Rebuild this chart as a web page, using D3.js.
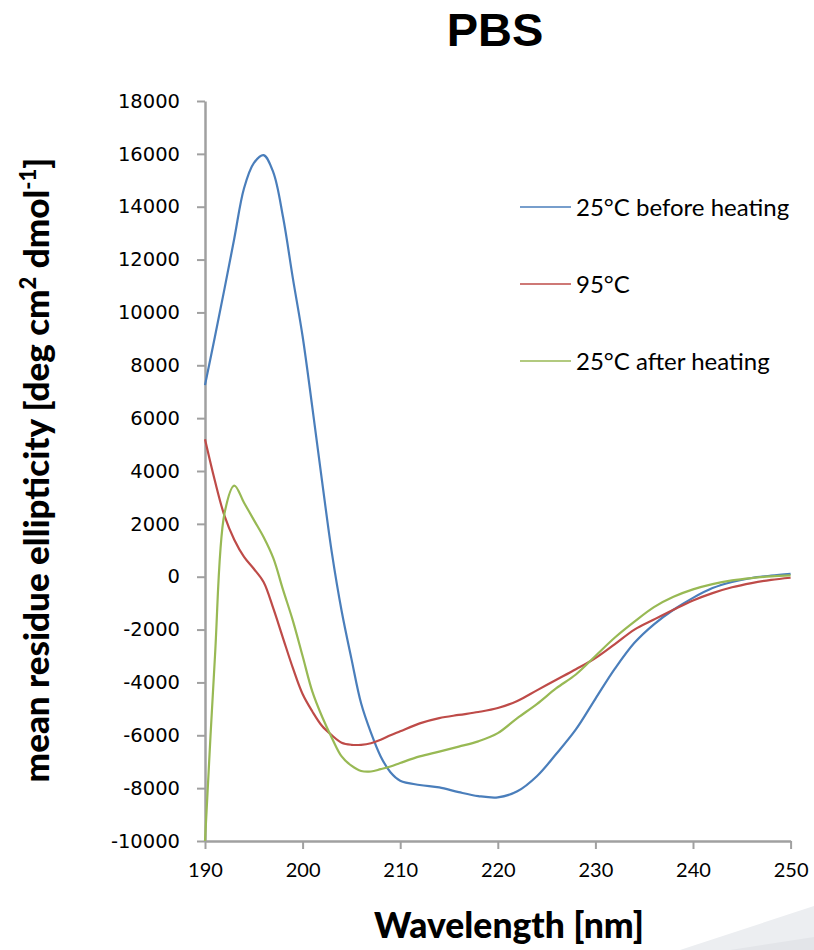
<!DOCTYPE html>
<html>
<head>
<meta charset="utf-8">
<script src="https://cdn.jsdelivr.net/npm/d3@7"></script>
<style>
body { margin: 0; background: #ffffff; }
svg { display: block; }
</style>
</head>
<body>
<div id="chart"></div>
<script>
// ----------------------------------------------------------
// DATA -----------------------------------------------------
// ----------------------------------------------------------
var wavelengths = [190, 191, 192, 193, 194, 195, 196, 197, 198, 199, 200, 201, 202, 203, 204, 205, 206, 207, 208, 209, 210,
  212, 214, 216, 218, 220, 222, 224, 226, 228, 230, 232, 234, 236, 238, 240, 242, 244, 246, 248, 250];

var before_heating = [7250, 9050, 10900, 12800, 14700, 15650, 15950, 15300, 13600, 11300, 9100, 6400, 3600, 900, -1300, -3100, -4800, -5900, -6800, -7400, -7720,
  -7880, -7970, -8150, -8300, -8350, -8120, -7550, -6700, -5780, -4620, -3480, -2500, -1800, -1250, -800, -430, -200, -50, 40, 110];

var hot_95 = [5200, 3650, 2300, 1400, 750, 300, -200, -1200, -2330, -3450, -4440, -5100, -5650, -6000, -6280, -6360, -6360, -6300, -6170, -6000, -5850,
  -5550, -5350, -5230, -5120, -4970, -4700, -4300, -3900, -3500, -3080, -2550, -2000, -1620, -1250, -900, -620, -400, -240, -120, -40];

var after_heating = [-10000, -3150, 2400, 3450, 2800, 2150, 1500, 700, -500, -1660, -3000, -4350, -5300, -6100, -6800, -7150, -7350, -7370, -7280, -7180, -7050,
  -6800, -6620, -6430, -6230, -5920, -5350, -4820, -4220, -3700, -3000, -2300, -1700, -1150, -760, -480, -280, -140, -50, 10, 50];

var series_names = ["25°C before heating", "95°C", "25°C after heating"];
var series_values = [before_heating, hot_95, after_heating];
var series_colors = ["#4a7ebb", "#be4b48", "#98b954"];

var x_ticks = [190, 200, 210, 220, 230, 240, 250];
var y_ticks = [-10000, -8000, -6000, -4000, -2000, 0, 2000, 4000, 6000, 8000, 10000, 12000, 14000, 16000, 18000];

// ----------------------------------------------------------
// STRUCTURE ------------------------------------------------
// ----------------------------------------------------------
var width = 814, height = 950;
var plot_left = 205, plot_right = 790.6, plot_top = 101, plot_bottom = 841;
var axis_color = "#a0a0a0";

var svg = d3.select("#chart").append("svg")
  .attr("width", width)
  .attr("height", height)
  .style("background-color", "#ffffff");

// decorative wedge, bottom right
svg.append("polygon")
  .attr("points", "680,950 814,906 814,950")
  .style("fill", "#eceef1");
svg.append("polygon")
  .attr("points", "730,950 814,937 814,950")
  .style("fill", "#e3e5e9");

var xScale = d3.scaleLinear().domain([190, 250]).range([plot_left, plot_right]);
var yScale = d3.scaleLinear().domain([-10000, 18000]).range([plot_bottom, plot_top]);

// ----------------------------------------------------------
// AXES -----------------------------------------------------
// ----------------------------------------------------------
svg.append("g")
  .attr("transform", "translate(0," + plot_bottom + ")")
  .call(d3.axisBottom(xScale).tickValues(x_ticks).tickSize(8).tickPadding(14).tickSizeOuter(0))
  .call(function(g) {
    g.select(".domain").attr("stroke", axis_color).attr("stroke-width", 2.5);
    g.selectAll(".tick line").attr("stroke", axis_color).attr("stroke-width", 2);
    g.selectAll(".tick text")
      .style("font-family", "Lato, 'Open Sans', sans-serif")
      .style("font-size", "20px")
      .attr("fill", "#000");
  });

svg.append("g")
  .attr("transform", "translate(" + plot_left + ",0)")
  .call(d3.axisLeft(yScale).tickValues(y_ticks).tickSize(8).tickPadding(17).tickSizeOuter(0)
    .tickFormat(function(d) { return String(d); }))
  .call(function(g) {
    g.select(".domain").attr("stroke", axis_color).attr("stroke-width", 2.5);
    g.selectAll(".tick line").attr("stroke", axis_color).attr("stroke-width", 2);
    g.selectAll(".tick text")
      .style("font-family", "'DejaVu Sans', Verdana, sans-serif")
      .style("font-size", "19.5px")
      .attr("fill", "#000");
  });

// ----------------------------------------------------------
// LINES ----------------------------------------------------
// ----------------------------------------------------------
var line = d3.line()
  .x(function(d) { return xScale(d[0]); })
  .y(function(d) { return yScale(d[1]); })
  .curve(d3.curveCatmullRom.alpha(0.5));

series_values.forEach(function(vals, i) {
  svg.append("path")
    .datum(wavelengths.map(function(w, j) { return [w, vals[j]]; }))
    .attr("d", line)
    .attr("fill", "none")
    .attr("stroke", series_colors[i])
    .attr("stroke-width", 2.2);
});

// ----------------------------------------------------------
// LEGEND ---------------------------------------------------
// ----------------------------------------------------------
var legend = svg.append("g").attr("transform", "translate(520,207)");
series_names.forEach(function(name, i) {
  legend.append("line")
    .attr("x1", 0).attr("x2", 51)
    .attr("y1", i * 77).attr("y2", i * 77)
    .attr("stroke", series_colors[i])
    .attr("stroke-width", 1.5);
  legend.append("text")
    .attr("x", 56)
    .attr("y", i * 77 + 9)
    .text(name)
    .style("font-family", "Lato, 'Open Sans', sans-serif")
    .style("font-size", "24px")
    .style("fill", "#000");
});

// ----------------------------------------------------------
// TEXT -----------------------------------------------------
// ----------------------------------------------------------
svg.append("text")
  .attr("x", 495)
  .attr("y", 46)
  .attr("text-anchor", "middle")
  .text("PBS")
  .style("font-family", "'Liberation Sans', Arial, sans-serif")
  .style("font-weight", "bold")
  .style("font-size", "47px")
  .style("fill", "#000");

svg.append("text")
  .attr("x", 509)
  .attr("y", 938)
  .attr("text-anchor", "middle")
  .text("Wavelength [nm]")
  .style("font-family", "Lato, 'Open Sans', sans-serif")
  .style("font-weight", "900")
  .style("font-size", "35.5px")
  .style("fill", "#000");

var ytitle = svg.append("text")
  .attr("transform", "translate(49,470) rotate(-90)")
  .attr("text-anchor", "middle")
  .style("font-family", "Lato, 'Open Sans', sans-serif")
  .style("font-weight", "900")
  .style("font-size", "35px")
  .style("fill", "#000");
ytitle.append("tspan").text("mean residue ellipticity [deg cm");
ytitle.append("tspan").attr("dy", -13).style("font-size", "22px").text("2");
ytitle.append("tspan").attr("dy", 13).text(" dmol");
ytitle.append("tspan").attr("dy", -13).style("font-size", "22px").text("-1");
ytitle.append("tspan").attr("dy", 13).text("]");
</script>
</body>
</html>
